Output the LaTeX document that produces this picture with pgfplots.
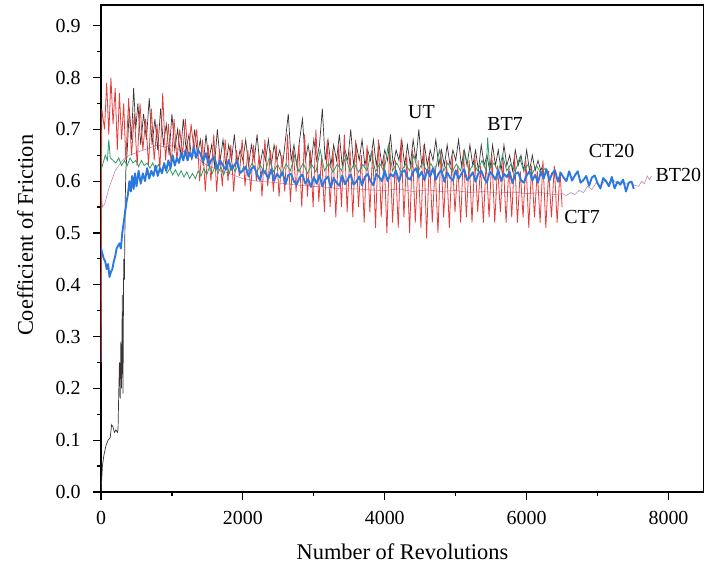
\documentclass[border=0pt]{standalone}
\usepackage{pgfplots}
\pgfplotsset{compat=1.18}
\usepackage{fontspec}
\setmainfont{Liberation Serif}
\definecolor{cUT}{HTML}{3A3434}
\definecolor{cCT7}{HTML}{E43C3A}
\definecolor{cBT7}{HTML}{2E9A6C}
\definecolor{cCT20}{HTML}{2A78E0}
\definecolor{cBT20}{HTML}{C08AB4}
\begin{document}
\begin{tikzpicture}
\begin{axis}[
  scale only axis, width=603bp, height=487bp,
  xmin=0, xmax=8500, ymin=0, ymax=0.94,
  xtick={0,2000,4000,6000,8000}, ytick={0,0.1,0.2,0.3,0.4,0.5,0.6,0.7,0.8,0.9},
  minor xtick={1000,3000,5000,7000},
  minor ytick={0.05,0.15,0.25,0.35,0.45,0.55,0.65,0.75,0.85},
  tick pos=left,
  tick align=outside,
  major tick length=8bp, minor tick length=4bp,
  axis line style={line width=1.1pt},
  every major tick/.append style={line width=1.2pt, black},
  every minor tick/.append style={line width=1.2pt, black},
  /pgf/number format/assume math mode=true,
  scaled x ticks=false,
  tick label style={font=\fontsize{20}{24}\selectfont},
  x tick label style={yshift=-8bp, /pgf/number format/.cd, fixed, 1000 sep={}},
  y tick label style={xshift=-9bp, /pgf/number format/.cd, fixed, fixed zerofill, precision=1},
  xlabel={Number of Revolutions}, ylabel={Coefficient of Friction},
  label style={font=\fontsize{22.5}{26}\selectfont},
  xlabel style={at={(axis description cs:0.5,-0.1396)}, anchor=base},
  ylabel style={at={(axis description cs:-0.1128,0.527)}, anchor=base},
]
% BT20
\addplot[cBT20, line width=0.6pt] coordinates {
(0,0.25)(8,0.58)(20,0.55)(50,0.555)(80,0.57)(120,0.59)(160,0.605)(200,0.62)(250,0.63)(300,0.64)(350,0.645)(400,0.65)(500,0.655)(600,0.66)(700,0.665)(800,0.67)(900,0.665)(1000,0.67)(1100,0.66)(1200,0.655)(1300,0.65)(1400,0.64)(1500,0.63)(1600,0.625)(1700,0.62)(1800,0.615)(1900,0.61)(2000,0.605)(2200,0.60)(2400,0.598)(2600,0.595)(2800,0.592)(3000,0.59)(3200,0.588)(3400,0.585)(3600,0.585)(3800,0.583)(4000,0.582)(4200,0.585)(4400,0.58)(4600,0.583)(4800,0.58)(5000,0.582)(5200,0.578)(5400,0.58)(5600,0.577)(5800,0.579)(6000,0.576)(6200,0.578)(6400,0.574)(6500,0.576)(6560,0.572)(6620,0.578)(6680,0.574)(6740,0.582)(6800,0.578)(6860,0.59)(6920,0.584)(6980,0.597)(7040,0.59)(7100,0.60)(7160,0.594)(7220,0.602)(7280,0.595)(7340,0.60)(7400,0.594)(7460,0.60)(7520,0.592)(7580,0.59)(7620,0.60)(7660,0.595)(7700,0.61)(7730,0.603)(7760,0.61)
};
% UT
\addplot[cUT, line width=0.7pt] coordinates {
(0,0.00)(20,0.05)(40,0.07)(70,0.09)(100,0.10)(130,0.105)(150,0.13)(170,0.125)(190,0.115)(210,0.12)(230,0.115)(240,0.12)(250,0.19)(260,0.25)(270,0.18)(280,0.29)(290,0.20)(300,0.38)(310,0.19)(320,0.45)(330,0.41)(340,0.55)(350,0.62)(370,0.66)(400,0.74)(430,0.68)(460,0.78)(490,0.70)(520,0.75)(560,0.67)(600,0.73)(640,0.68)(680,0.76)(720,0.67)(760,0.72)(800,0.66)(840,0.74)(880,0.67)(920,0.71)(960,0.65)(1000,0.73)(1040,0.66)(1080,0.70)(1120,0.65)(1160,0.72)(1200,0.66)(1240,0.69)(1280,0.64)(1320,0.70)(1360,0.65)(1400,0.68)(1440,0.63)(1480,0.69)(1520,0.64)(1560,0.67)(1600,0.63)(1640,0.70)(1680,0.64)(1720,0.68)(1760,0.63)(1800,0.67)(1840,0.64)(1880,0.69)(1920,0.63)(1960,0.66)(2000,0.64)(2040,0.68)(2080,0.63)(2120,0.67)(2160,0.64)(2200,0.69)(2240,0.63)(2280,0.66)(2320,0.64)(2360,0.68)(2400,0.63)(2440,0.67)(2480,0.64)(2520,0.66)(2560,0.63)(2600,0.68)(2640,0.73)(2680,0.64)(2720,0.67)(2760,0.63)(2800,0.68)(2840,0.72)(2880,0.64)(2920,0.67)(2960,0.63)(3000,0.68)(3040,0.64)(3080,0.67)(3120,0.74)(3160,0.64)(3200,0.68)(3240,0.63)(3280,0.67)(3320,0.64)(3360,0.69)(3400,0.63)(3440,0.66)(3480,0.64)(3520,0.70)(3560,0.63)(3600,0.67)(3640,0.64)(3680,0.68)(3720,0.63)(3760,0.66)(3800,0.64)(3840,0.68)(3880,0.63)(3920,0.67)(3960,0.63)(4000,0.66)(4040,0.64)(4080,0.69)(4120,0.63)(4160,0.66)(4200,0.64)(4240,0.68)(4280,0.63)(4320,0.67)(4360,0.63)(4400,0.68)(4440,0.64)(4480,0.70)(4520,0.63)(4560,0.67)(4600,0.63)(4640,0.66)(4680,0.64)(4720,0.68)(4760,0.63)(4800,0.66)(4840,0.63)(4880,0.67)(4920,0.63)(4960,0.66)(5000,0.64)(5040,0.68)(5080,0.63)(5120,0.66)(5160,0.63)(5200,0.67)(5240,0.63)(5280,0.66)(5320,0.62)(5360,0.67)(5400,0.63)(5440,0.65)(5480,0.62)(5520,0.67)(5560,0.63)(5600,0.66)(5640,0.62)(5680,0.67)(5720,0.63)(5760,0.65)(5800,0.62)(5840,0.66)(5880,0.63)(5920,0.65)(5960,0.62)(6000,0.66)(6040,0.62)(6080,0.65)(6120,0.62)(6160,0.64)(6200,0.62)(6225,0.63)
};
% CT7
\addplot[cCT7, line width=0.8pt] coordinates {
(0,0.25)(10,0.74)(50,0.70)(80,0.79)(110,0.69)(140,0.80)(170,0.71)(200,0.78)(230,0.66)(260,0.77)(290,0.68)(320,0.75)(350,0.64)(390,0.76)(430,0.65)(470,0.73)(510,0.63)(550,0.75)(590,0.66)(630,0.72)(670,0.63)(710,0.74)(750,0.64)(790,0.71)(830,0.62)(870,0.77)(910,0.64)(950,0.71)(990,0.63)(1030,0.72)(1070,0.64)(1110,0.70)(1150,0.65)(1190,0.72)(1230,0.64)(1270,0.71)(1310,0.66)(1350,0.70)(1390,0.60)(1430,0.68)(1470,0.58)(1510,0.67)(1550,0.60)(1590,0.69)(1630,0.58)(1670,0.66)(1710,0.59)(1750,0.68)(1790,0.60)(1830,0.67)(1870,0.58)(1910,0.66)(1950,0.61)(1990,0.68)(2030,0.59)(2070,0.66)(2110,0.58)(2150,0.67)(2190,0.60)(2230,0.65)(2270,0.57)(2310,0.68)(2350,0.59)(2390,0.66)(2430,0.58)(2470,0.67)(2510,0.57)(2550,0.65)(2590,0.58)(2630,0.69)(2670,0.56)(2710,0.66)(2750,0.58)(2790,0.67)(2830,0.55)(2870,0.69)(2910,0.57)(2950,0.66)(2990,0.55)(3030,0.70)(3070,0.56)(3110,0.65)(3150,0.54)(3190,0.68)(3230,0.55)(3270,0.66)(3310,0.53)(3350,0.67)(3390,0.55)(3430,0.69)(3470,0.54)(3510,0.66)(3550,0.53)(3590,0.68)(3630,0.55)(3670,0.65)(3710,0.52)(3750,0.67)(3790,0.54)(3830,0.66)(3870,0.51)(3910,0.68)(3950,0.53)(3990,0.65)(4030,0.50)(4070,0.67)(4110,0.52)(4150,0.64)(4190,0.51)(4230,0.68)(4270,0.53)(4310,0.65)(4350,0.50)(4390,0.66)(4430,0.52)(4470,0.64)(4510,0.51)(4550,0.67)(4590,0.49)(4630,0.65)(4670,0.52)(4710,0.63)(4750,0.50)(4790,0.66)(4830,0.53)(4870,0.64)(4910,0.51)(4950,0.65)(4990,0.54)(5030,0.63)(5070,0.52)(5110,0.66)(5150,0.53)(5190,0.64)(5230,0.52)(5270,0.65)(5310,0.54)(5350,0.63)(5390,0.52)(5430,0.64)(5470,0.53)(5510,0.65)(5550,0.52)(5590,0.63)(5630,0.54)(5670,0.64)(5710,0.52)(5750,0.63)(5790,0.53)(5830,0.65)(5870,0.52)(5910,0.62)(5950,0.53)(5990,0.64)(6030,0.51)(6070,0.63)(6110,0.53)(6150,0.62)(6190,0.52)(6230,0.64)(6270,0.51)(6310,0.62)(6350,0.53)(6390,0.63)(6430,0.52)(6470,0.62)(6500,0.55)
};
% BT7
\addplot[cBT7, line width=0.8pt] coordinates {
(0,0.62)(30,0.635)(60,0.65)(90,0.64)(110,0.68)(130,0.645)(170,0.64)(210,0.635)(250,0.645)(290,0.63)(330,0.64)(370,0.63)(410,0.645)(450,0.635)(490,0.64)(530,0.628)(570,0.64)(610,0.63)(650,0.635)(690,0.625)(730,0.635)(770,0.622)(810,0.632)(850,0.62)(890,0.63)(930,0.615)(970,0.625)(1010,0.612)(1050,0.622)(1090,0.61)(1130,0.62)(1170,0.608)(1210,0.618)(1250,0.605)(1290,0.615)(1330,0.605)(1370,0.62)(1410,0.61)(1450,0.625)(1490,0.612)(1530,0.628)(1570,0.615)(1610,0.63)(1650,0.615)(1690,0.628)(1730,0.612)(1770,0.63)(1810,0.615)(1850,0.632)(1890,0.618)(1930,0.63)(1970,0.615)(2010,0.628)(2070,0.618)(2130,0.635)(2190,0.617)(2250,0.63)(2310,0.615)(2370,0.645)(2430,0.618)(2490,0.632)(2550,0.615)(2610,0.633)(2670,0.62)(2730,0.65)(2790,0.618)(2850,0.635)(2910,0.615)(2970,0.632)(3030,0.618)(3090,0.66)(3150,0.62)(3210,0.635)(3270,0.617)(3330,0.633)(3390,0.62)(3450,0.648)(3510,0.618)(3570,0.634)(3630,0.617)(3690,0.632)(3750,0.62)(3810,0.655)(3870,0.618)(3930,0.634)(3990,0.618)(4050,0.67)(4110,0.62)(4170,0.635)(4230,0.617)(4290,0.633)(4350,0.62)(4410,0.65)(4470,0.618)(4530,0.636)(4590,0.62)(4650,0.634)(4710,0.618)(4770,0.66)(4830,0.62)(4890,0.635)(4950,0.618)(5010,0.633)(5070,0.62)(5130,0.655)(5190,0.618)(5250,0.634)(5310,0.62)(5370,0.64)(5430,0.62)(5450,0.684)(5480,0.625)(5540,0.635)(5600,0.618)(5660,0.65)(5720,0.62)(5780,0.633)(5840,0.618)(5900,0.645)(5960,0.62)(6020,0.632)(6080,0.615)(6140,0.63)(6200,0.615)(6260,0.625)(6280,0.62)
};
% CT20
\addplot[cCT20, line width=1.9pt, line join=round] coordinates {
(0,0.47)(20,0.46)(40,0.45)(60,0.445)(80,0.43)(100,0.44)(120,0.415)(140,0.425)(160,0.43)(180,0.445)(200,0.455)(220,0.47)(240,0.475)(260,0.48)(280,0.47)(300,0.50)(320,0.52)(340,0.54)(360,0.56)(380,0.575)(400,0.60)(420,0.58)(440,0.61)(460,0.585)(480,0.615)(500,0.59)(530,0.62)(560,0.595)(590,0.615)(620,0.60)(650,0.625)(680,0.605)(710,0.62)(740,0.61)(770,0.63)(800,0.61)(830,0.625)(860,0.615)(890,0.635)(920,0.62)(950,0.64)(980,0.625)(1010,0.65)(1040,0.63)(1070,0.645)(1100,0.635)(1130,0.655)(1160,0.64)(1190,0.66)(1220,0.64)(1250,0.655)(1280,0.645)(1310,0.665)(1340,0.645)(1370,0.66)
(1400,0.653)(1440,0.638)(1480,0.654)(1520,0.630)(1560,0.642)(1600,0.646)(1640,0.624)(1680,0.640)(1720,0.630)(1760,0.622)(1800,0.641)(1840,0.622)(1880,0.631)(1920,0.638)(1960,0.616)(2000,0.620)(2040,0.628)(2080,0.609)(2120,0.624)(2160,0.628)(2200,0.613)(2240,0.602)(2280,0.622)(2320,0.615)(2360,0.605)(2400,0.623)(2440,0.601)(2480,0.614)(2520,0.607)(2560,0.617)(2600,0.594)(2640,0.612)(2680,0.614)(2720,0.599)(2760,0.594)(2800,0.607)(2840,0.613)(2880,0.595)(2920,0.604)(2960,0.589)
(3000,0.608)(3040,0.595)(3080,0.612)(3120,0.590)(3160,0.603)(3200,0.609)(3240,0.588)(3280,0.606)(3320,0.597)(3360,0.591)(3400,0.611)(3440,0.594)(3480,0.604)(3520,0.613)(3560,0.593)(3600,0.599)(3640,0.609)(3680,0.592)(3720,0.608)(3760,0.614)(3800,0.600)(3840,0.592)(3880,0.614)(3920,0.608)(3960,0.600)(4000,0.620)(4040,0.600)(4080,0.614)(4120,0.609)(4160,0.620)(4200,0.599)(4240,0.617)(4280,0.621)(4320,0.607)(4360,0.603)(4400,0.618)(4440,0.625)(4480,0.608)(4520,0.618)(4560,0.602)
(4600,0.622)(4640,0.609)(4680,0.625)(4720,0.603)(4760,0.615)(4800,0.621)(4840,0.599)(4880,0.617)(4920,0.607)(4960,0.601)(5000,0.621)(5040,0.604)(5080,0.614)(5120,0.623)(5160,0.602)(5200,0.608)(5240,0.617)(5280,0.599)(5320,0.615)(5360,0.620)(5400,0.606)(5440,0.597)(5480,0.618)(5520,0.612)(5560,0.603)(5600,0.621)(5640,0.600)(5680,0.614)(5720,0.608)(5760,0.618)(5800,0.596)(5840,0.614)(5880,0.617)(5920,0.602)(5960,0.597)(6000,0.611)(6040,0.619)(6080,0.601)(6120,0.612)(6160,0.597)
(6200,0.618)(6240,0.605)(6280,0.623)(6320,0.601)(6360,0.615)(6400,0.621)(6440,0.599)(6480,0.616)(6520,0.607)(6560,0.600)(6600,0.619)(6640,0.601)(6680,0.611)(6720,0.619)(6760,0.597)(6800,0.602)(6840,0.610)(6880,0.591)(6920,0.607)(6960,0.611)(7000,0.596)(7040,0.586)(7080,0.606)(7120,0.600)(7160,0.590)(7200,0.608)(7240,0.586)(7280,0.599)(7320,0.593)(7360,0.603)(7400,0.580)(7440,0.597)(7480,0.599)(7510,0.585)
};
\begin{scope}[every node/.style={font=\fontsize{20}{24}\selectfont, anchor=base, inner sep=0pt}]
\node at (axis cs:4518,0.721) {UT};
\node at (axis cs:5695,0.698) {BT7};
\node at (axis cs:7197,0.646) {CT20};
\node at (axis cs:8139,0.600) {BT20};
\node at (axis cs:6782,0.519) {CT7};
\end{scope}
\end{axis}
% major ticks drawn along the axis frame
\foreach \k in {0,...,9} \draw[line width=1.2pt, black] ([yshift=\k*51.8085bp]current axis.south west) -- ++(-8bp,0);
\foreach \k in {0,...,4} \draw[line width=1.2pt, black] ([xshift=\k*141.882bp]current axis.south west) -- ++(0,-8bp);
\pgfresetboundingbox
\path[use as bounding box] ([xshift=-101bp,yshift=-75bp]current axis.south west) rectangle ([yshift=5bp]current axis.north east);
\end{tikzpicture}
\end{document}
